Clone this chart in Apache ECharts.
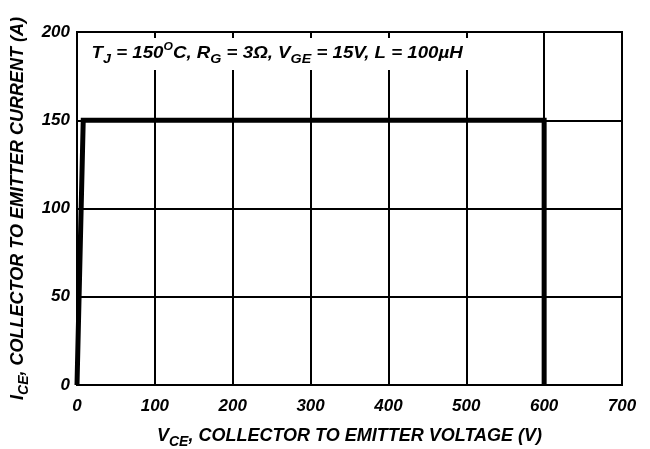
<!DOCTYPE html>
<html>
<head>
<meta charset="utf-8">
<script src="https://cdn.jsdelivr.net/npm/echarts@6/dist/echarts.min.js"></script>
<style>html,body{margin:0;padding:0;background:#fff}#c{width:650px;height:449px}</style>
</head>
<body>
<div id="c"></div>
<script>
var vce = [0, 8, 600, 600];
var ice = [0, 150, 150, 0];
var xTicks = [0, 100, 200, 300, 400, 500, 600, 700];
var yTicks = [0, 50, 100, 150, 200];

var FONT = 'Liberation Sans';
var chart = echarts.init(document.getElementById('c'));
var pts = vce.map(function (v, i) { return [v, ice[i]]; });
var lab = { color: '#000', fontFamily: FONT, fontWeight: 'bold', fontStyle: 'italic', fontSize: 17 };
function nameRich() {
  return {
    i: Object.assign({}, lab, { fontSize: 18, lineHeight: 22, verticalAlign: 'top' }),
    s: Object.assign({}, lab, { fontSize: 14, lineHeight: 22, verticalAlign: 'bottom', padding: [10, 0, 0, 0] })
  };
}
chart.setOption({
  animation: false,
  backgroundColor: '#fff',
  grid: { left: 77, right: 28, top: 32, bottom: 64, show: true, borderColor: '#000', borderWidth: 2,
          containLabel: false, outerBoundsMode: 'none' },
  xAxis: {
    type: 'value', min: xTicks[0], max: xTicks[xTicks.length - 1], interval: 100,
    axisLine: { show: true, lineStyle: { color: '#000', width: 2 } },
    axisTick: { show: false },
    splitLine: { show: true, lineStyle: { color: '#000', width: 2 } },
    axisLabel: Object.assign({ margin: 13 }, lab),
    name: '{i|V}{s|CE}{i|, COLLECTOR TO EMITTER VOLTAGE (V)}',
    nameLocation: 'middle', nameGap: 42,
    nameTextStyle: { rich: nameRich() }
  },
  yAxis: {
    type: 'value', min: yTicks[0], max: yTicks[yTicks.length - 1], interval: 50,
    axisLine: { show: true, lineStyle: { color: '#000', width: 2 } },
    axisTick: { show: false },
    splitLine: { show: true, lineStyle: { color: '#000', width: 2 } },
    axisLabel: Object.assign({ margin: 7 }, lab),
    name: '{i|I}{s|CE}{i|, COLLECTOR TO EMITTER CURRENT (A)}',
    nameLocation: 'middle', nameGap: 45,
    nameTextStyle: { rich: nameRich() }
  },
  graphic: [{
    type: 'text', left: 85, top: 38, z: 100, scaleX: 1.1,
    style: {
      text: '{i|T}{s|J}{i| = 150}{p|O}{i|C, R}{s|G}{i| = 3Ω, V}{s|GE}{i| = 15V, L = 100µH}',
      backgroundColor: '#fff',
      padding: [3, 6, 4, 6],
      rich: {
        i: Object.assign({}, lab, { fontSize: 17, lineHeight: 25, verticalAlign: 'middle' }),
        s: Object.assign({}, lab, { fontSize: 13, lineHeight: 25, verticalAlign: 'bottom', padding: [11, 0, 0, 0] }),
        p: Object.assign({}, lab, { fontSize: 11, lineHeight: 25, verticalAlign: 'top', padding: [0, 0, 9, 0] })
      }
    }
  }],
  series: [{
    type: 'line', data: pts, symbol: 'none', z: 10,
    lineStyle: { color: '#000', width: 5, join: 'miter', cap: 'butt' }
  }]
});
</script>
</body>
</html>
